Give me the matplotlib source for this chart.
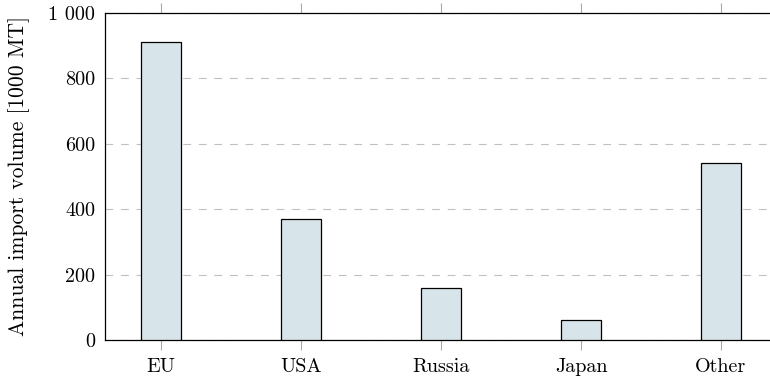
import matplotlib
matplotlib.use("Agg")
import matplotlib.pyplot as plt
from matplotlib.ticker import FuncFormatter

plt.rcParams['font.family'] = ['cmr10', 'DejaVu Serif']
plt.rcParams['axes.unicode_minus'] = False
plt.rcParams['axes.formatter.use_mathtext'] = True

regions = ['EU', 'USA', 'Russia', 'Japan', 'Other']
imports = [910, 370, 160, 60, 540]
y_ticks = [0, 200, 400, 600, 800, 1000]

fig = plt.figure(figsize=(7.7, 3.79), dpi=100)
ax = fig.add_axes([105 / 770, 39 / 379, 672 / 770, 327 / 379])

x = list(range(len(regions)))
ax.bar(x, imports, width=0.286, color='#d7e5ea', edgecolor='black', linewidth=0.9, zorder=3)

ax.set_xlim(-0.4, len(regions) - 0.6)
ax.set_ylim(0, 1000)
ax.set_xticks(x)
ax.set_xticklabels(regions)
ax.set_yticks(y_ticks)
ax.yaxis.set_major_formatter(FuncFormatter(lambda v, p: f"{int(v):,}".replace(',', ' ')))

ax.grid(axis='y', linestyle=(0, (7, 7)), color='#c0c0c0', linewidth=0.8, zorder=0)
ax.tick_params(axis='x', which='both', direction='out', length=7.5, color='#aaaaaa',
               top=True, labelsize=14.5, pad=5.5)
ax.tick_params(axis='y', direction='out', length=0, labelsize=14.5, pad=7)
for s in ax.spines.values():
    s.set_linewidth(0.9)

ax.set_ylabel('Annual import volume [1000 MT]', fontsize=15.5)
ax.yaxis.set_label_coords(-0.112, 0.5)

fig.savefig('out.png', dpi=100)
